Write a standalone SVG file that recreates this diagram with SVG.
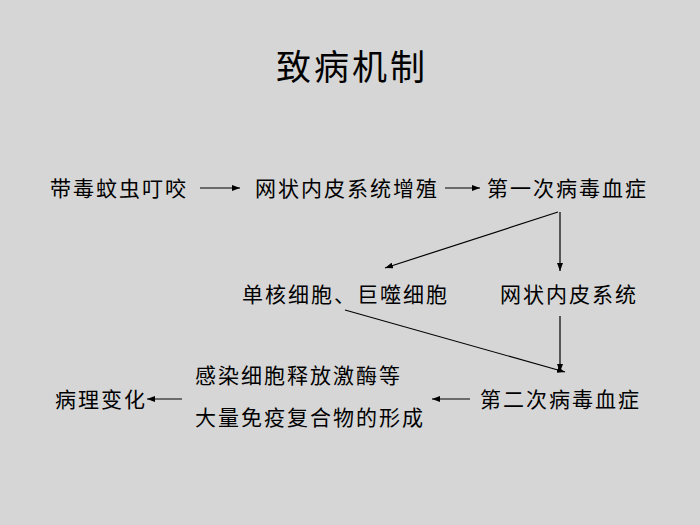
<svg xmlns="http://www.w3.org/2000/svg" width="700" height="525" viewBox="0 0 700 525">
<style>
text{font-family:"Noto Sans CJK SC","Noto Sans",sans-serif;font-size:21px;letter-spacing:2px;fill:#000}
.c line{stroke:#000;stroke-width:1.2;marker-end:url(#a)}
</style>
<defs><marker id="a" markerWidth="8" markerHeight="6" refX="8" refY="3" orient="auto" markerUnits="userSpaceOnUse"><path d="M0,0L8,3L0,6z" fill="#000"/></marker></defs>
<rect width="700" height="525" fill="#d6d6d6"/>
<text x="276" y="80" style="font-size:35px;letter-spacing:3px">致病机制</text>
<g id="n1"><text x="50" y="196">带毒蚊虫叮咬</text></g>
<g id="n2"><text x="255" y="196">网状内皮系统增殖</text></g>
<g id="n3"><text x="487" y="196">第一次病毒血症</text></g>
<g id="n4"><text x="242" y="302">单核细胞、巨噬细胞</text></g>
<g id="n5"><text x="500" y="302">网状内皮系统</text></g>
<g id="n6"><text x="480" y="407">第二次病毒血症</text></g>
<g id="n7"><text x="195" y="383">感染细胞释放激酶等</text><text x="195" y="425">大量免疫复合物的形成</text></g>
<g id="n8"><text x="55" y="407">病理变化</text></g>
<g class="c">
<line x1="200" y1="188" x2="240" y2="188"/>
<line x1="445" y1="188" x2="480" y2="188"/>
<line x1="558" y1="212" x2="385" y2="268"/>
<line x1="560" y1="212" x2="560" y2="271"/>
<line x1="560" y1="316" x2="560" y2="372"/>
<line x1="345" y1="310" x2="565" y2="372"/>
<line x1="470" y1="399" x2="432" y2="399"/>
<line x1="182" y1="399" x2="147" y2="399"/>
</g>
</svg>
